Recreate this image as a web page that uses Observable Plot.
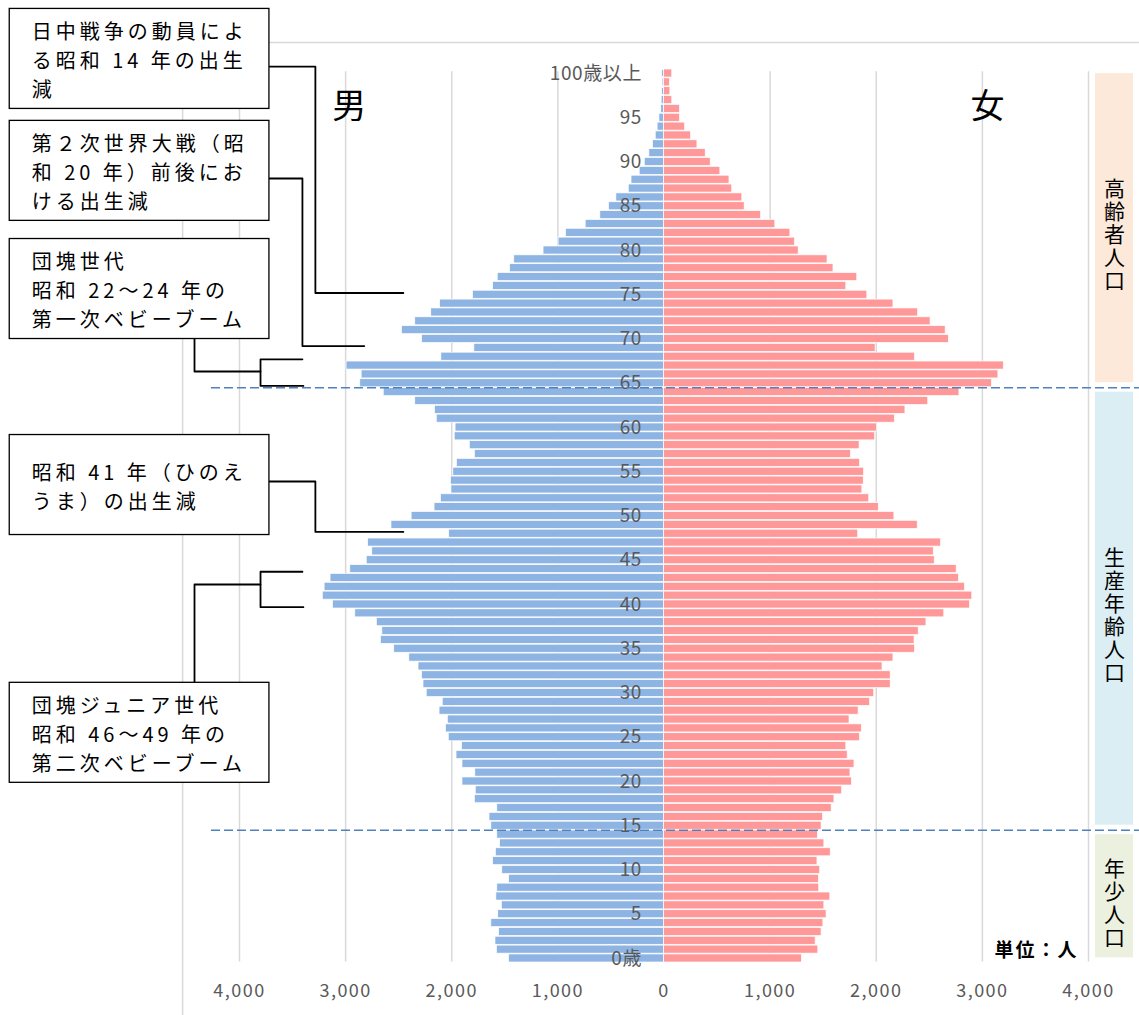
<!DOCTYPE html>
<html><head><meta charset="utf-8">
<script src="https://cdn.jsdelivr.net/npm/d3@7"></script>
<script src="https://cdn.jsdelivr.net/npm/@observablehq/plot@0.6"></script>
<style>
html,body{margin:0;padding:0;background:#fff;}
#chart svg{display:block;}
</style></head><body><div id="chart"></div>
<script>
// ---- data ----
const ages = d3.range(0, 101);
const male = [
 1459,1575,1588,1554,1627,1562,1528,1580,1571,1459,
 1524,1610,1584,1545,1571,1627,1644,1571,1782,1774,
 1899,1778,1899,1955,1903,2028,2054,2037,2115,2085,
 2236,2266,2279,2313,2400,2542,2667,2654,2706,2909,
 3120,3215,3198,3142,2956,2801,2749,2788,2024,2568,
 2378,2162,2102,2003,2007,1985,1951,1782,1830,1972,
 1964,2141,2158,2344,2641,2862,2849,2991,2098,1787,
 2279,2469,2344,2193,2110,1800,1610,1567,1450,1411,
 1135,993,924,738,600,518,449,332,306,229,
 181,138,104,78,60,43,26,22,17,13,17];
const female = [
 1299,1454,1429,1485,1502,1532,1511,1567,1463,1459,
 1472,1446,1571,1511,1450,1485,1498,1580,1606,1679,
 1770,1757,1795,1731,1718,1847,1864,1748,1834,1942,
 1981,2136,2136,2059,2162,2365,2361,2400,2473,2641,
 2883,2905,2836,2779,2758,2551,2542,2611,1830,2391,
 2171,2024,1934,1869,1882,1886,1847,1761,1843,1990,
 2007,2175,2275,2490,2784,3090,3151,3202,2365,1994,
 2684,2654,2512,2395,2162,1916,1718,1821,1597,1541,
 1269,1234,1191,1049,915,760,738,643,617,531,
 440,393,315,255,199,151,151,78,60,56,78];
const ageTicks = [0,5,10,15,20,25,30,35,40,45,50,55,60,65,70,75,80,85,90,95,100];
const ageTickLabels = ["0歳","5","10","15","20","25","30","35","40","45","50","55","60","65","70","75","80","85","90","95","100歳以上"];
const xTicks = [-4000,-3000,-2000,-1000,0,1000,2000,3000,4000];
const xTickLabels = ["4,000","3,000","2,000","1,000","0","1,000","2,000","3,000","4,000"];
const groupNames = ["高齢者人口","生産年齢人口","年少人口"];
const groupFrom = [65, 15, 0];
const groupTo = [100, 64, 14];
const sexLabels = ["男","女"];
const unitLabel = "単位：人";
const annoTexts = [
 "日中戦争の動員によ\nる昭和 14 年の出生\n減",
 "第２次世界大戦（昭\n和 20 年）前後にお\nける出生減",
 "団塊世代\n昭和 22〜24 年の\n第一次ベビーブーム",
 "昭和 41 年（ひのえ\nうま）の出生減",
 "団塊ジュニア世代\n昭和 46〜49 年の\n第二次ベビーブーム"
];
const annoFrom = [75, 69, 65, 48, 40];
const annoTo = [75, 69, 67, 48, 43];

// ---- derived tables ----
const rows = ages.map((a, i) => ({age: a, male: male[i], female: female[i]}));
const groups = groupNames.map((n, i) => ({name: n, from: groupFrom[i], to: groupTo[i]}));

// layout (in scale units)
const boxX1 = -6165, boxX2 = -3718, textX = -5958;
const boxCenter = [101.65, 89.0, 75.65, 53.5, 25.5], boxHalf = 5.65;
const annos = annoTexts.map((t, i) => ({text: t, cy: boxCenter[i]}));
const lay = [
 {sy: 100.79, ex: -3285, tx: -2456},
 {sy: 88.14, ex: -3407, tx: -2824},
 {stemY: 66.33, up: false},
 {sy: 53.9, ex: -3285, tx: -2456},
 {stemY: 42.26, up: true}
];
const conn = [];
lay.forEach((L, i) => {
  if (L.sy !== undefined) {
    const ty = annoFrom[i] + 0.2;
    [[boxX2, L.sy], [L.ex, L.sy], [L.ex, ty], [L.tx, ty]].forEach(p => conn.push({id: "c" + i, x: p[0], y: p[1]}));
  } else {
    const bx = -3802, stemX = -4424;
    const boxEdge = L.up ? boxCenter[i] + boxHalf : boxCenter[i] - boxHalf;
    [[stemX, boxEdge], [stemX, L.stemY], [bx, L.stemY]].forEach(p => conn.push({id: "s" + i, x: p[0], y: p[1]}));
    const lo = annoFrom[i] - 0.3, hi = annoTo[i] + 0.7;
    [[-3407, hi], [bx, hi], [bx, lo], [-3398, lo]].forEach(p => conn.push({id: "b" + i, x: p[0], y: p[1]}));
  }
});

const CJK = "'Noto Sans CJK JP', 'Noto Sans', sans-serif";
const gray = "#d9d9d9";

const chart = Plot.plot({
  width: 1139, height: 1015,
  marginTop: 68.6, marginBottom: 52.6, marginLeft: 239, marginRight: 51,
  x: {domain: [-4000, 4000], axis: null},
  y: {domain: [-0.5, 100.5], axis: null},
  style: {background: "white", fontFamily: CJK},
  marks: [
    // plot-area outline (top & left)
    Plot.ruleY([103.5], {x1: () => -4536, x2: () => 4480, stroke: gray, strokeWidth: 1.5}),
    Plot.ruleX([-4536], {y1: () => 103.5, y2: () => -6.5, stroke: gray, strokeWidth: 1.5}),
    // gridlines
    Plot.ruleX(xTicks, {y1: () => -0.4, y2: () => 100.2, stroke: gray, strokeWidth: 1.5}),
    // age group boxes
    Plot.rect(groups, {x1: () => 4066, x2: () => 4424, y1: d => d.from - 0.5, y2: d => d.to + 0.5,
      fill: (d, i) => ["#fde9d9", "#daeef3", "#ebf1de"][i], insetTop: 4.5, insetBottom: 5}),
    Plot.text(groups, {x: () => 4245, y: d => (d.from + d.to) / 2, text: "name",
      fontSize: 21, fill: "#000", ariaDescription: "groups"}),
    // bars
    Plot.rect(rows, {x1: d => -d.male, x2: () => 0, y1: d => d.age - 0.5, y2: d => d.age + 0.5,
      fill: "#8eb4e3", stroke: "#fff", strokeWidth: 0.7, insetTop: 0.4, insetBottom: 0.4}),
    Plot.rect(rows, {x1: () => 0, x2: d => d.female, y1: d => d.age - 0.5, y2: d => d.age + 0.5,
      fill: "#ff9999", stroke: "#fff", strokeWidth: 0.7, insetTop: 0.4, insetBottom: 0.4}),
    // age labels
    Plot.text(ageTicks, {x: () => 0, y: d => d, text: (d, i) => ageTickLabels[i], textAnchor: "end", dx: -22,
      fontSize: 19, fill: "#595959", ariaDescription: "yticks"}),
    // x tick labels
    Plot.text(xTicks, {x: d => d, frameAnchor: "bottom", dy: 28, text: (d, i) => xTickLabels[i],
      fontSize: 18, fill: "#595959", lineAnchor: "middle", ariaDescription: "xticks"}),
    // dashed boundaries
    Plot.ruleY([14.5, 64.5], {x1: () => -4264, x2: () => 4480, stroke: "#4f81bd", strokeWidth: 1.5, strokeDasharray: "9,4"}),
    // sex labels
    Plot.text(sexLabels, {x: (d, i) => i === 0 ? -2965 : 3049, y: () => 96.2, text: d => d, fontSize: 34, fill: "#000"}),
    // unit
    Plot.text([unitLabel], {x: () => 3511, y: () => 0.8, text: d => d, fontSize: 19, fontWeight: "bold", fill: "#000", ariaDescription: "unit"}),
    // annotation connectors
    Plot.line(conn, {x: "x", y: "y", z: "id", stroke: "#000", strokeWidth: 1.8, curve: "linear"}),
    // annotation boxes
    Plot.rect(annos, {x1: () => boxX1, x2: () => boxX2, y1: d => d.cy - boxHalf, y2: d => d.cy + boxHalf,
      fill: "#fff", stroke: "#000", strokeWidth: 1.3}),
    Plot.text(annos, {x: () => textX, y: d => d.cy, text: "text", textAnchor: "start", lineAnchor: "middle",
      lineHeight: 1.45, fontSize: 20, fill: "#000", ariaDescription: "anno"})
  ]
});
document.getElementById("chart").append(chart);
const sel = d3.select(chart);
sel.selectAll("g[aria-description=anno]").style("letter-spacing", "4px");
sel.selectAll("g[aria-description=xticks]").style("letter-spacing", "1.5px");
sel.selectAll("g[aria-description=yticks]").style("letter-spacing", "0.6px");
sel.selectAll("g[aria-description=unit]").style("letter-spacing", "2px");
sel.selectAll("g[aria-description=groups] text")
  .attr("dy", null)
  .attr("writing-mode", "vertical-rl")
  .style("writing-mode", "vertical-rl")
  .style("letter-spacing", "2px")
  .attr("text-anchor", "middle")
  .attr("dominant-baseline", "central");
</script></body></html>
